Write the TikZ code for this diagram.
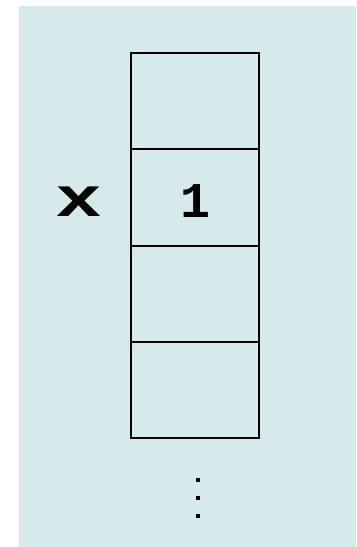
\documentclass[tikz,border=0pt]{standalone}
\usepackage{fontspec}
\newfontfamily\codefont{Liberation Mono}
\usetikzlibrary{positioning}
\definecolor{panelbg}{RGB}{214,234,236}

\begin{document}
\begin{tikzpicture}[x=1bp, y=-1bp,
    cell/.style={draw, line width=2bp, minimum width=128bp, minimum height=96.25bp, inner sep=0pt, outer sep=0pt},
    val/.style={font=\codefont\bfseries\fontsize{50bp}{50bp}\selectfont, inner sep=0pt},
    varname/.style={font=\codefont\bfseries\fontsize{56bp}{56bp}\selectfont, inner sep=0pt}]
  \useasboundingbox (0,0) rectangle (356,547);
  \fill[panelbg] (19,6) rectangle (356,547);
  % memory cells
  \node (c1) [cell] at (195,101.25) {};
  \node (c2) [cell, below=0pt of c1] {};
  \node (c3) [cell, below=0pt of c2] {};
  \node (c4) [cell, below=0pt of c3] {};
  \node (one) [val, yshift=-4bp] at (c2) {1};
  \node (x) [varname, xscale=1.4, transform shape, left=28bp of c2, yshift=-4bp] {x};
  % more cells below
  \coordinate[below=42bp of c4.south, xshift=3bp] (more);
  \foreach \i in {0,1,2}
    \fill ([shift={(-2,{-2+\i*18})}]more) rectangle +(4,4);
\end{tikzpicture}
\end{document}
